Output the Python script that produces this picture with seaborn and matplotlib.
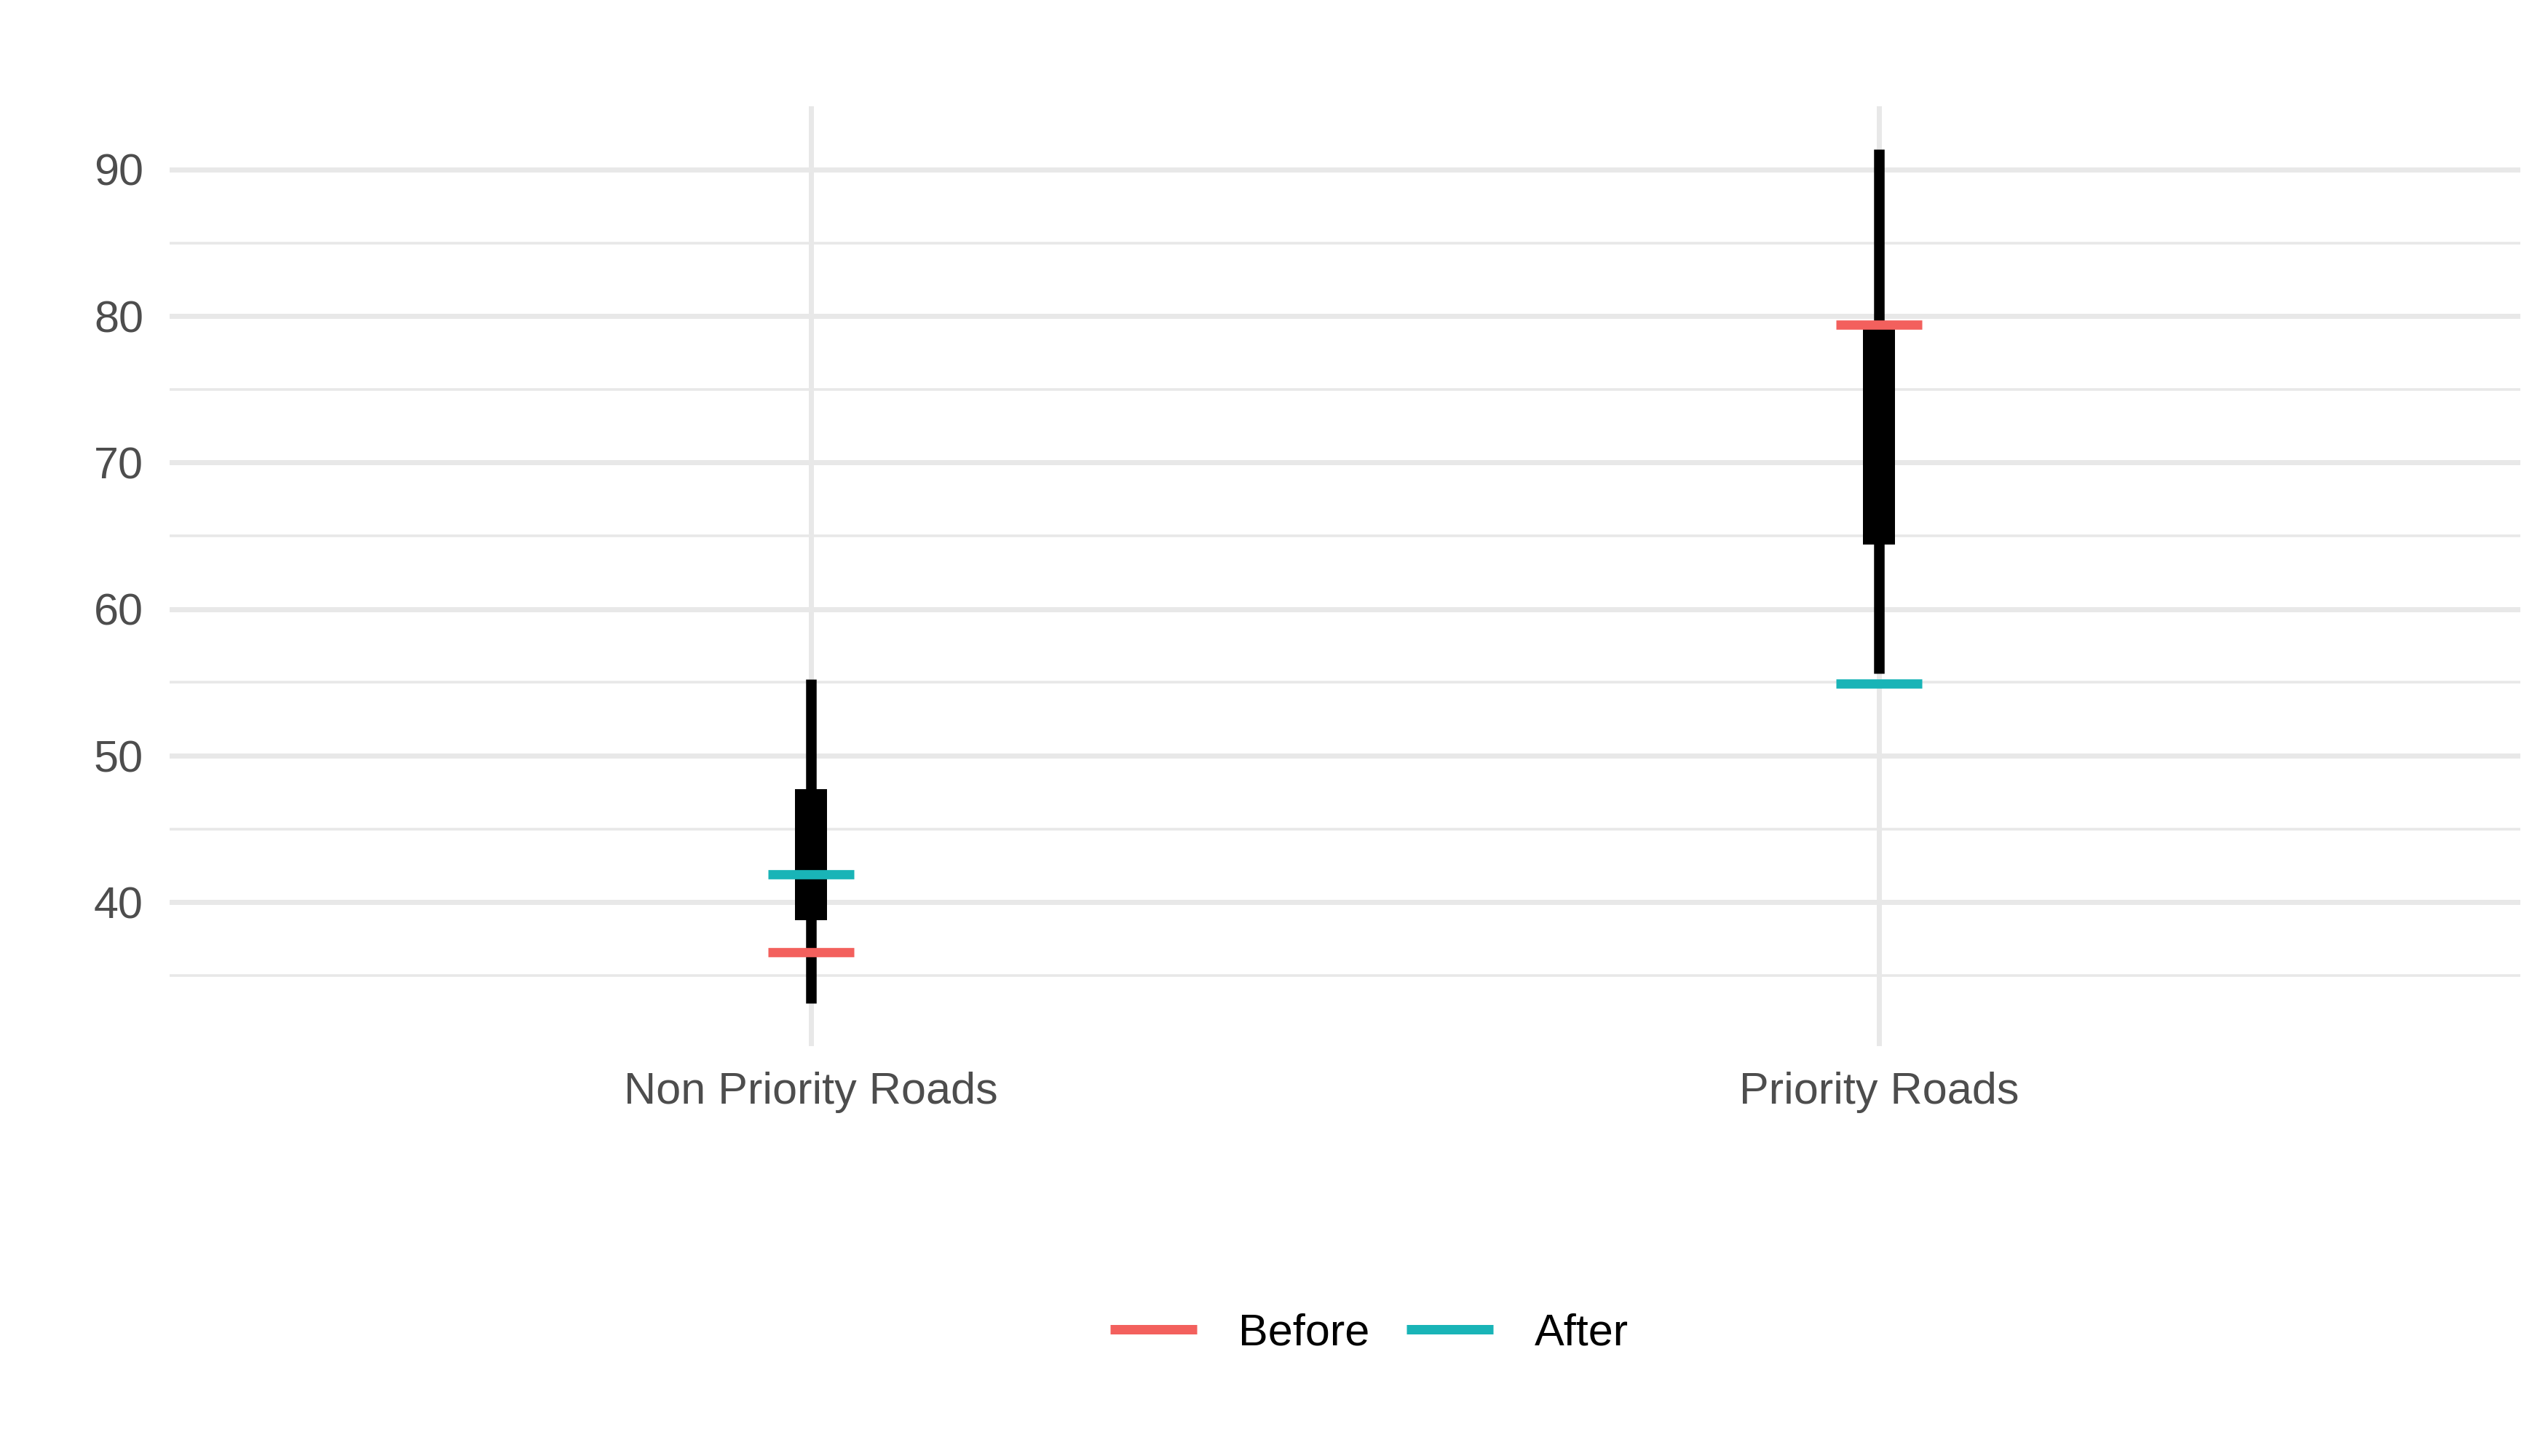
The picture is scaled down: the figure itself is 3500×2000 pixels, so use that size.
import numpy as np
import pandas as pd
import matplotlib
matplotlib.use("Agg")
import matplotlib.pyplot as plt
import seaborn as sns
from matplotlib.lines import Line2D
from matplotlib.ticker import MultipleLocator

# ---- data ----
categories = ["Non Priority Roads", "Priority Roads"]
range_low = [33.1, 55.6]
range_high = [55.2, 91.4]
iqr_low = [38.8, 64.4]
iqr_high = [47.7, 79.1]
before = [36.6, 79.4]
after = [41.9, 54.9]
groups = ["Before", "After"]
colors = ["#F3605D", "#19B4B7"]

DPI = 200
W, H = 3500, 2000


def px(p):
    return p * 72.0 / DPI


sns.set_theme(style="whitegrid")
plt.rcParams["font.family"] = ["Liberation Sans", "DejaVu Sans"]

fig = plt.figure(figsize=(W / DPI, H / DPI), dpi=DPI)
left, right, top, bottom = 233, 3462, 146, 1437
ax = fig.add_axes([left / W, 1 - bottom / H, (right - left) / W, (bottom - top) / H])

df = pd.DataFrame({
    "road": categories * 2,
    "value": before + after,
    "period": [groups[0]] * len(categories) + [groups[1]] * len(categories),
})

sns.pointplot(
    data=df, x="road", y="value", hue="period", hue_order=groups,
    order=categories, palette=colors, markers="_", linestyles="none",
    markersize=px(118.7), markeredgewidth=px(12.7), dodge=False,
    errorbar=None, legend=False, ax=ax, zorder=5,
)

pos = np.arange(len(categories))
thin = ax.vlines(pos, range_low, range_high, colors="black", linewidth=px(14.5), zorder=3)
thin.set_capstyle("butt")
thick = ax.vlines(pos, iqr_low, iqr_high, colors="black", linewidth=px(44), zorder=4)
thick.set_capstyle("butt")

allv = range_low + range_high + iqr_low + iqr_high + before + after
lo, hi = min(allv), max(allv)
pad = 0.05 * (hi - lo)
ax.set_ylim(lo - pad, hi + pad)
ax.set_xlim(-0.6, len(categories) - 0.4)

ax.yaxis.set_major_locator(MultipleLocator(10))
ax.yaxis.set_minor_locator(MultipleLocator(5))
ax.set_axisbelow(True)
ax.grid(False)
ax.grid(which="major", axis="both", color="#E8E8E8", linewidth=px(7))
ax.grid(which="minor", axis="y", color="#E8E8E8", linewidth=px(3.6))
for s in ax.spines.values():
    s.set_visible(False)
ax.set_facecolor("white")
ax.tick_params(axis="both", which="both", length=0, labelsize=22, labelcolor="#4D4D4D")
ax.tick_params(axis="y", pad=13)
ax.tick_params(axis="x", pad=12.5)
ax.set_xlabel("")
ax.set_ylabel("")

handles = [Line2D([], [], color=c, lw=px(13), solid_capstyle="butt") for c in colors]
fig.legend(
    handles, groups, loc="center", bbox_to_anchor=(1881 / W, 1 - 1832 / H),
    ncol=2, frameon=False, fontsize=22, labelcolor="black",
    handlelength=1.95, handletextpad=0.93, columnspacing=0.83,
)

fig.savefig("out.png", dpi=DPI, facecolor="white")
